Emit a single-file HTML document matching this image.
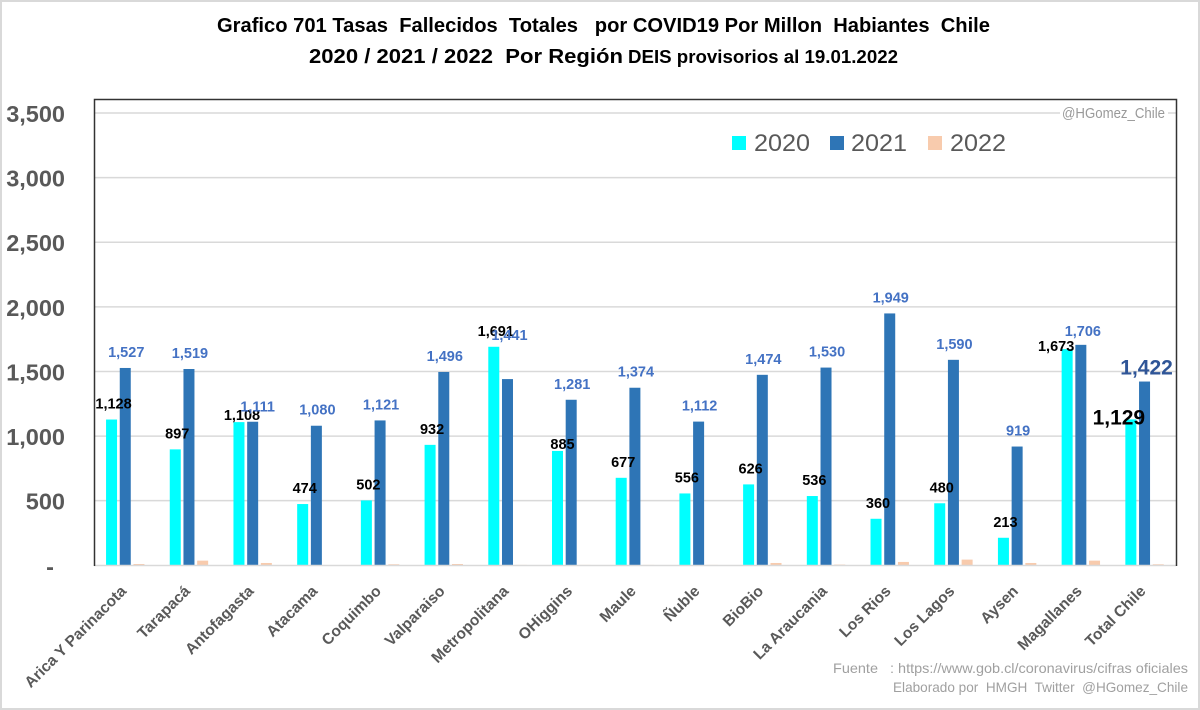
<!DOCTYPE html>
<html lang="es">
<head>
<meta charset="utf-8">
<title>Grafico 701 Tasas Fallecidos Totales por COVID19</title>
<style>
  html, body { margin: 0; padding: 0; background: #fff; }
  svg { display: block; font-family: "Liberation Sans", "DejaVu Sans", sans-serif; }
  text { white-space: pre; }
</style>
</head>
<body>
<svg id="chart" xmlns="http://www.w3.org/2000/svg" width="1200" height="710" viewBox="0 0 1200 710">
  <rect x="1" y="1" width="1198" height="708" fill="#ffffff" stroke="#d9d9d9" stroke-width="2"/>
  <text x="217" y="32" font-size="20" font-weight="bold" fill="#000" textLength="773" lengthAdjust="spacingAndGlyphs">Grafico 701 Tasas  Fallecidos  Totales   por COVID19 Por Millon  Habiantes  Chile</text>
  <text x="309" y="63" font-size="20" font-weight="bold" fill="#000" textLength="314" lengthAdjust="spacingAndGlyphs">2020 / 2021 / 2022  Por Región</text>
  <text x="628" y="63" font-size="18" font-weight="bold" fill="#000" textLength="270" lengthAdjust="spacingAndGlyphs">DEIS provisorios al 19.01.2022</text>
  <g id="grid"></g>
  <g id="yaxis"></g>
  <rect x="1060" y="104" width="108" height="18" fill="#ffffff"/>
  <text x="1062" y="118" font-size="15" fill="#999999" textLength="103" lengthAdjust="spacingAndGlyphs">@HGomez_Chile</text>
  <g id="bars"></g>
  <line x1="94" x2="1176" y1="565.5" y2="565.5" stroke="#d9d9d9" stroke-width="1.5"/>
  <path d="M94.5 566V99.5H1176.5V566" fill="none" stroke="#333333" stroke-width="1.5"/>
  <g id="xaxis"></g>
  <g id="labels"></g>
  <g>
    <rect x="732" y="136" width="14" height="14" fill="#00ffff"/>
    <text x="754" y="151" font-size="24" fill="#595959" textLength="56" lengthAdjust="spacingAndGlyphs">2020</text>
    <rect x="830" y="136" width="14" height="14" fill="#2e75b6"/>
    <text x="851" y="151" font-size="24" fill="#595959" textLength="56" lengthAdjust="spacingAndGlyphs">2021</text>
    <rect x="928" y="136" width="14" height="14" fill="#f8cbad"/>
    <text x="950" y="151" font-size="24" fill="#595959" textLength="56" lengthAdjust="spacingAndGlyphs">2022</text>
  </g>
  <text x="833" y="673" font-size="14" fill="#a0a0a0" textLength="355" lengthAdjust="spacingAndGlyphs">Fuente   : https://www.gob.cl/coronavirus/cifras oficiales</text>
  <text x="893" y="692" font-size="14" fill="#a0a0a0" textLength="295" lengthAdjust="spacingAndGlyphs">Elaborado por  HMGH  Twitter  @HGomez_Chile</text>
</svg>
<script>
const categories = ["Arica Y Parinacota", "Tarapacá", "Antofagasta", "Atacama", "Coquimbo", "Valparaiso", "Metropolitana", "OHiggins", "Maule", "Ñuble", "BioBio", "La Araucania", "Los Rios", "Los Lagos", "Aysen", "Magallanes", "Total Chile"];
const values2020 = [1128, 897, 1108, 474, 502, 932, 1691, 885, 677, 556, 626, 536, 360, 480, 213, 1673, 1129];
const values2021 = [1527, 1519, 1111, 1080, 1121, 1496, 1441, 1281, 1374, 1112, 1474, 1530, 1949, 1590, 919, 1706, 1422];
const values2022 = [10, 36, 18, 2, 8, 10, 3, 3, 3, 3, 18, 6, 26, 44, 18, 36, 8];
const yTicks = [0, 500, 1000, 1500, 2000, 2500, 3000, 3500];

const NS = "http://www.w3.org/2000/svg";
const plotLeft = 94, plotRight = 1176, baseY = 565.3, topY = 113;
const bandLeft = 93.4, bandRight = 1176.4;
const yMax = 3500;
const y = v => baseY - (v / yMax) * (baseY - topY);
const band = (bandRight - bandLeft) / categories.length;
const xCenter = i => bandLeft + band * (i + 0.5);
const barWidth = 11, barStep = 13.7;

function make(tag, attrs, parent, content) {
  const el = document.createElementNS(NS, tag);
  for (const k in attrs) el.setAttribute(k, attrs[k]);
  if (content !== undefined) el.textContent = content;
  parent.appendChild(el);
  return el;
}
const fmt = v => v.toLocaleString("en-US");

const grid = document.getElementById("grid");
const yaxis = document.getElementById("yaxis");
yTicks.forEach(t => {
  if (t > 0) {
    const g = make("line", { x1: plotLeft, x2: plotRight, y1: y(t), y2: y(t), stroke: "#d9d9d9", "stroke-width": 1.5 }, grid);
    
    
  }
  const lab = make("text", { x: t === 0 ? 54 : 65, y: y(t) + 9, "text-anchor": "end", "font-size": 23.5, "font-weight": "bold", fill: "#595959" }, yaxis, t === 0 ? "-" : fmt(t));
  
  
});

const bars = document.getElementById("bars");
const series = [
  { vals: values2020, color: "#00ffff", off: -1 },
  { vals: values2021, color: "#2e75b6", off: 0 },
  { vals: values2022, color: "#f8cbad", off: 1 }
];
series.forEach(s => {
  s.vals.forEach((v, i) => {
    const cx = xCenter(i) + s.off * barStep;
    const r = make("rect", { x: cx - barWidth / 2, y: y(v), width: barWidth, height: baseY - y(v), fill: s.color }, bars);
    
    
  });
});

const xaxis = document.getElementById("xaxis");
categories.forEach((c, i) => {
  const ax = xCenter(i) + 2, ay = 592;
  const t = make("text", { x: ax, y: ay, "text-anchor": "end", "font-size": 15.5, "font-weight": "bold", fill: "#595959", transform: "rotate(-45 " + ax + " " + ay + ")" }, xaxis, c);
  
  
});

const labels = document.getElementById("labels");
function nudge2020(i) {
  if (i === 2) return { dx: 3, dy: 9 };
  if (i === 7) return { dx: 5, dy: 9 };
  if (i === 15) return { dx: -11, dy: 13 };
  if (i === 16) return { dx: -12, dy: 14 };
  return { dx: 2, dy: 0 };
}
function nudge2021(i) {
  if (i === 2) return { dx: 5, dy: 1 };
  if (i === 6) return { dx: 2, dy: -28 };
  if (i === 15) return { dx: 2, dy: 2 };
  if (i === 16) return { dx: 2, dy: 6 };
  return { dx: 1, dy: 0 };
}
values2020.forEach((v, i) => {
  const n = nudge2020(i);
  const big = i === categories.length - 1;
  const t = make("text", { x: xCenter(i) - barStep + n.dx, y: y(v) - 11 + n.dy + (big ? 2 : 0), "text-anchor": "middle", "font-size": big ? 21 : 14.5, "font-weight": "bold", fill: "#000000" }, labels, fmt(v));
  
  
});
values2021.forEach((v, i) => {
  const n = nudge2021(i);
  const big = i === categories.length - 1;
  const t = make("text", { x: xCenter(i) + n.dx, y: y(v) - 11 + n.dy + (big ? -2 : 0), "text-anchor": "middle", "font-size": big ? 21 : 14.5, "font-weight": "bold", fill: big ? "#2f5597" : "#4472c4" }, labels, fmt(v));
  
  
});
</script>
</body>
</html>
